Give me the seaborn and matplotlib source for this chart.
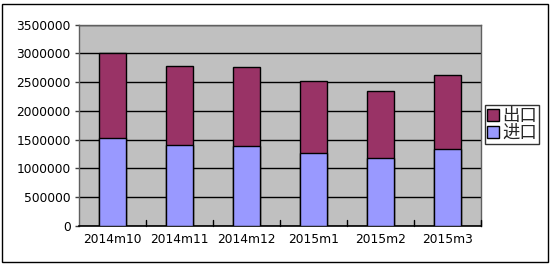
import matplotlib
matplotlib.use("Agg")
import matplotlib.pyplot as plt
import seaborn as sns
import pandas as pd
import numpy as np
from matplotlib.patches import Rectangle, Patch

categories = ["2014m10", "2014m11", "2014m12", "2015m1", "2015m2", "2015m3"]
imports = [1520000, 1400000, 1390000, 1268000, 1175000, 1337000]
exports = [1480000, 1385000, 1366000, 1245000, 1170000, 1280000]
yticks = [0, 500000, 1000000, 1500000, 2000000, 2500000, 3000000, 3500000]

sns.set_theme(style="white")
plt.rcParams['font.family'] = ['DejaVu Sans']

df = pd.DataFrame({"cat": categories, "imp": imports, "exp": exports})
df["total"] = df["imp"] + df["exp"]

fig = plt.figure(figsize=(5.54, 2.65), dpi=100)
ax = fig.add_axes([79/554, 1-226/265, (481-79)/554, (226-24.5)/265])
ax.set_facecolor("#C0C0C0")

sns.barplot(data=df, x="cat", y="total", color="#993366", saturation=1,
            width=0.4, edgecolor="black", linewidth=1, ax=ax, zorder=2)
sns.barplot(data=df, x="cat", y="imp", color="#9999FF", saturation=1,
            width=0.4, edgecolor="black", linewidth=1, ax=ax, zorder=3)

ax.set_ylim(0, 3500000)
ax.set_xlim(-0.5, len(categories) - 0.5)
ax.set_yticks(yticks)
ax.set_yticklabels([str(v) for v in yticks], fontsize=8.8, color="black")
ax.set_xticks(range(len(categories)))
ax.set_xticklabels(categories, fontsize=8.8, color="black")
ax.tick_params(axis="x", length=0, pad=5)
ax.tick_params(axis="y", length=3, width=1, color="#404040", pad=3, left=True)
ax.set_axisbelow(True)
ax.yaxis.grid(True, color="black", lw=1)
ax.xaxis.grid(False)
for b in np.arange(0.5, len(categories) - 0.5 + 0.01, 1.0):
    ax.plot([b, b], [0, 3500000 * 0.03], color="black", lw=1, zorder=4,
            clip_on=False)
ax.set_xlabel("")
ax.set_ylabel("")

for s in ["top", "right", "left"]:
    ax.spines[s].set_color("#606060")
    ax.spines[s].set_linewidth(1)
ax.spines["bottom"].set_color("black")
ax.spines["bottom"].set_linewidth(1.2)

handles = [Patch(facecolor="#993366", edgecolor="black", label="出口"),
           Patch(facecolor="#9999FF", edgecolor="black", label="进口")]
leg = fig.legend(handles=handles, loc="upper left",
                 bbox_to_anchor=(485/554, 1-105/265),
                 prop={"family": ["Noto Sans CJK SC", "DejaVu Sans"], "size": 12.5},
                 frameon=True, fancybox=False, edgecolor="black",
                 handlelength=0.7, handleheight=0.7, handletextpad=0.2,
                 borderpad=0.1, labelspacing=-0.05, borderaxespad=0)
leg.get_frame().set_linewidth(1)

fig.patches.append(Rectangle((2/554, 3/265), 546/554, 258/265, transform=fig.transFigure,
                             fill=False, edgecolor="black", lw=1))

fig.savefig("out.png", dpi=100, facecolor="white")
